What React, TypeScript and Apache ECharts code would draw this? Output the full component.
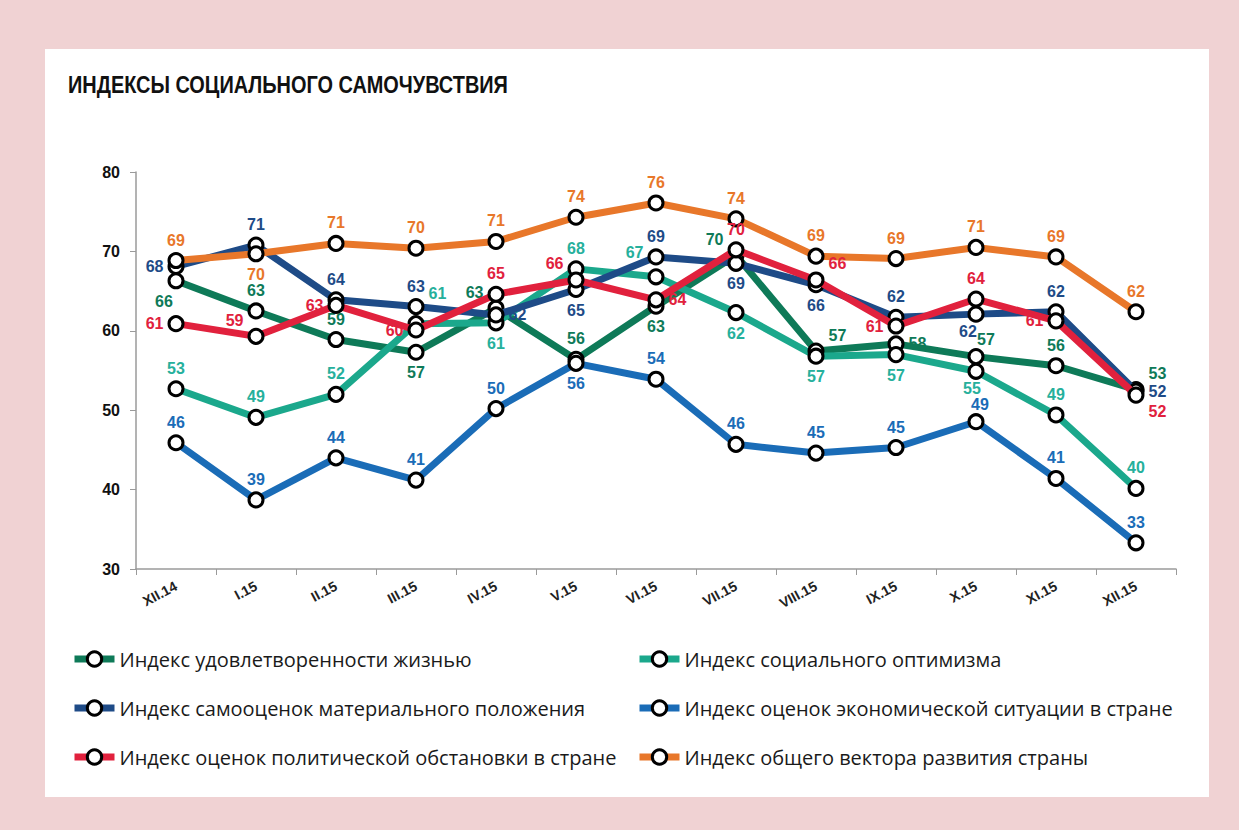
import React, { useEffect, useRef } from 'react';
import * as echarts from 'echarts';

const categories = ['XII.14', 'I.15', 'II.15', 'III.15', 'IV.15', 'V.15', 'VI.15', 'VII.15', 'VIII.15', 'IX.15', 'X.15', 'XI.15', 'XII.15'];

const seriesNames = [
  'Индекс удовлетворенности жизнью',
  'Индекс социального оптимизма',
  'Индекс самооценок материального положения',
  'Индекс оценок экономической ситуации в стране',
  'Индекс оценок политической обстановки в стране',
  'Индекс общего вектора развития страны',
];

const lifeSatisfaction = [66.3, 62.5, 58.9, 57.3, 62.85, 56.4, 63.1, 69.5, 57.45, 58.35, 56.75, 55.6, 52.6];
const socialOptimism = [52.7, 49.1, 52.0, 60.9, 61.0, 67.8, 66.8, 62.3, 56.8, 57.0, 54.9, 49.4, 40.15];
const materialSelf = [68.1, 70.8, 63.9, 63.05, 62.0, 65.2, 69.3, 68.5, 65.8, 61.7, 62.1, 62.4, 52.4];
const economicSituation = [45.9, 38.7, 44.0, 41.2, 50.2, 55.9, 53.9, 45.7, 44.6, 45.3, 48.55, 41.4, 33.3];
const politicalSituation = [60.9, 59.3, 63.2, 60.1, 64.6, 66.4, 63.9, 70.2, 66.4, 60.6, 64.0, 61.25, 51.9];
const developmentVector = [68.85, 69.7, 71.0, 70.4, 71.25, 74.3, 76.1, 74.1, 69.4, 69.1, 70.5, 69.3, 62.4];

const yTicks = [30, 40, 50, 60, 70, 80];

// label placement codes per point
const lifePos = ['bl', 't', 't', 'b', 'tl', 't', 'b', 'tl', 'tr', 'r', 'ts', 't', 'tr'];
const optPos = ['t', 't', 't', 'tr2', 'b', 't', 'tl2', 'b', 'b', 'b', 'bs', 't', 't'];
const matPos = ['l', 't', 't', 't', 'r', 'b', 't', 'b', 'b', 't', 'bsl', 't', 'r'];
const econPos = ['t', 't', 't', 't', 't', 'b', 't', 't', 't', 't', 'tsr', 't', 't'];
const polPos = ['l', 'tl', 'l', 'l', 't', 'tl', 'r', 't', 'tr', 'l', 't', 'l', 'br'];
const vecPos = ['t', 'b', 't', 't', 't', 't', 't', 't', 't', 't', 't', 't', 't'];

const FONT = '"Liberation Sans", Arial, sans-serif';

const POS: Record<string, any> = {
  t: { position: 'top' },
  b: { position: 'bottom' },
  l: { position: 'left' },
  r: { position: 'right' },
  tl: { position: 'left', offset: [0, -16] },
  tl2: { position: 'left', offset: [0, -24] },
  tr: { position: 'right', offset: [0, -16] },
  tr2: { position: 'right', offset: [0, -30] },
  bl: { position: 'bottom', offset: [-12, 0] },
  br: { position: 'right', offset: [0, 16] },
  ts: { position: 'top', offset: [10, 3] },
  bsl: { position: 'bottom', offset: [-8, -3] },
  bs: { position: 'bottom', offset: [-4, -3] },
  tsr: { position: 'top', offset: [4, 3] },
};

function makeSeries(name: string, values: number[], positions: string[], color: string, labelColor: string, z: number) {
  return {
    name,
    type: 'line',
    z,
    data: values.map((v, i) => ({ value: v, label: POS[positions[i]] })),
    symbol: 'circle',
    symbolSize: 14,
    showAllSymbol: true,
    lineStyle: { color, width: 7 },
    itemStyle: { color: '#ffffff', borderColor: '#000000', borderWidth: 3 },
    label: {
      show: true,
      color: labelColor,
      fontWeight: 'bold',
      fontSize: 16,
      fontFamily: FONT,
      distance: 4,
      formatter: (p: any) => String(Math.round(p.value)),
    },
    emphasis: { disabled: true },
  };
}

export default function App() {
  const ref = useRef<HTMLDivElement>(null);
  useEffect(() => {
    if (!ref.current) return;
    const chart = echarts.init(ref.current, undefined, { renderer: 'svg' });
    const legendText = { fontSize: 20, color: '#1a1a1a', fontFamily: '"Open Sans", "Noto Sans", sans-serif' };
    const legendCommon = {
      orient: 'vertical',
      top: 649,
      padding: 0,
      itemWidth: 40,
      itemHeight: 18,
      itemGap: 29,
      textStyle: legendText,
      selectedMode: false,
      lineStyle: { width: 7 },
      itemStyle: { color: '#ffffff', borderColor: '#000000', borderWidth: 3 },
    };
    chart.setOption({
      animation: false,
      backgroundColor: '#F0D2D3',
      graphic: [
        { type: 'rect', shape: { x: 45, y: 49, width: 1164, height: 748 }, style: { fill: '#ffffff' }, z: -10 },
        {
          type: 'text',
          x: 68,
          y: 73,
          scaleX: 0.83,
          style: {
            text: 'ИНДЕКСЫ СОЦИАЛЬНОГО САМОЧУВСТВИЯ',
            fontFamily: '"Liberation Sans", Arial, sans-serif',
            fontWeight: 'bold',
            fontSize: 24,
            fill: '#111111',
            verticalAlign: 'top',
          },
        },
      ],
      grid: { left: 136, right: 63, top: 172, bottom: 261, containLabel: false },
      xAxis: {
        type: 'category',
        data: categories,
        boundaryGap: true,
        axisLine: { lineStyle: { color: '#9a9a9a', width: 1.5 } },
        axisTick: { show: true, length: 6, lineStyle: { color: '#9a9a9a' } },
        axisLabel: { rotate: 28, fontWeight: 'bold', fontSize: 14, color: '#222', fontFamily: FONT, margin: 16, interval: 0 },
      },
      yAxis: {
        type: 'value',
        min: yTicks[0],
        max: yTicks[yTicks.length - 1],
        interval: 10,
        axisLine: { show: true, lineStyle: { color: '#9a9a9a', width: 1.5 } },
        axisTick: { show: true, length: 6, lineStyle: { color: '#9a9a9a' } },
        splitLine: { show: false },
        axisLabel: { fontWeight: 'bold', fontSize: 16, color: '#111', fontFamily: FONT, margin: 16 },
      },
      legend: [
        { ...legendCommon, left: 71, data: [seriesNames[0], seriesNames[2], seriesNames[4]] },
        { ...legendCommon, left: 636, data: [seriesNames[1], seriesNames[3], seriesNames[5]] },
      ],
      series: [
        makeSeries(seriesNames[0], lifeSatisfaction, lifePos, '#0E7A58', '#0E7A58', 2),
        makeSeries(seriesNames[1], socialOptimism, optPos, '#1BA88C', '#26B09C', 2),
        makeSeries(seriesNames[2], materialSelf, matPos, '#1E4B87', '#1E4B87', 3),
        makeSeries(seriesNames[3], economicSituation, econPos, '#1A6CB7', '#1A6CB7', 3),
        makeSeries(seriesNames[4], politicalSituation, polPos, '#E1213D', '#E1213D', 4),
        makeSeries(seriesNames[5], developmentVector, vecPos, '#E8772A', '#E8772A', 4),
      ],
    });
    return () => chart.dispose();
  }, []);
  return <div ref={ref} style={{ position: 'fixed', left: 0, top: 0, width: 1239, height: 830 }} />;
}
